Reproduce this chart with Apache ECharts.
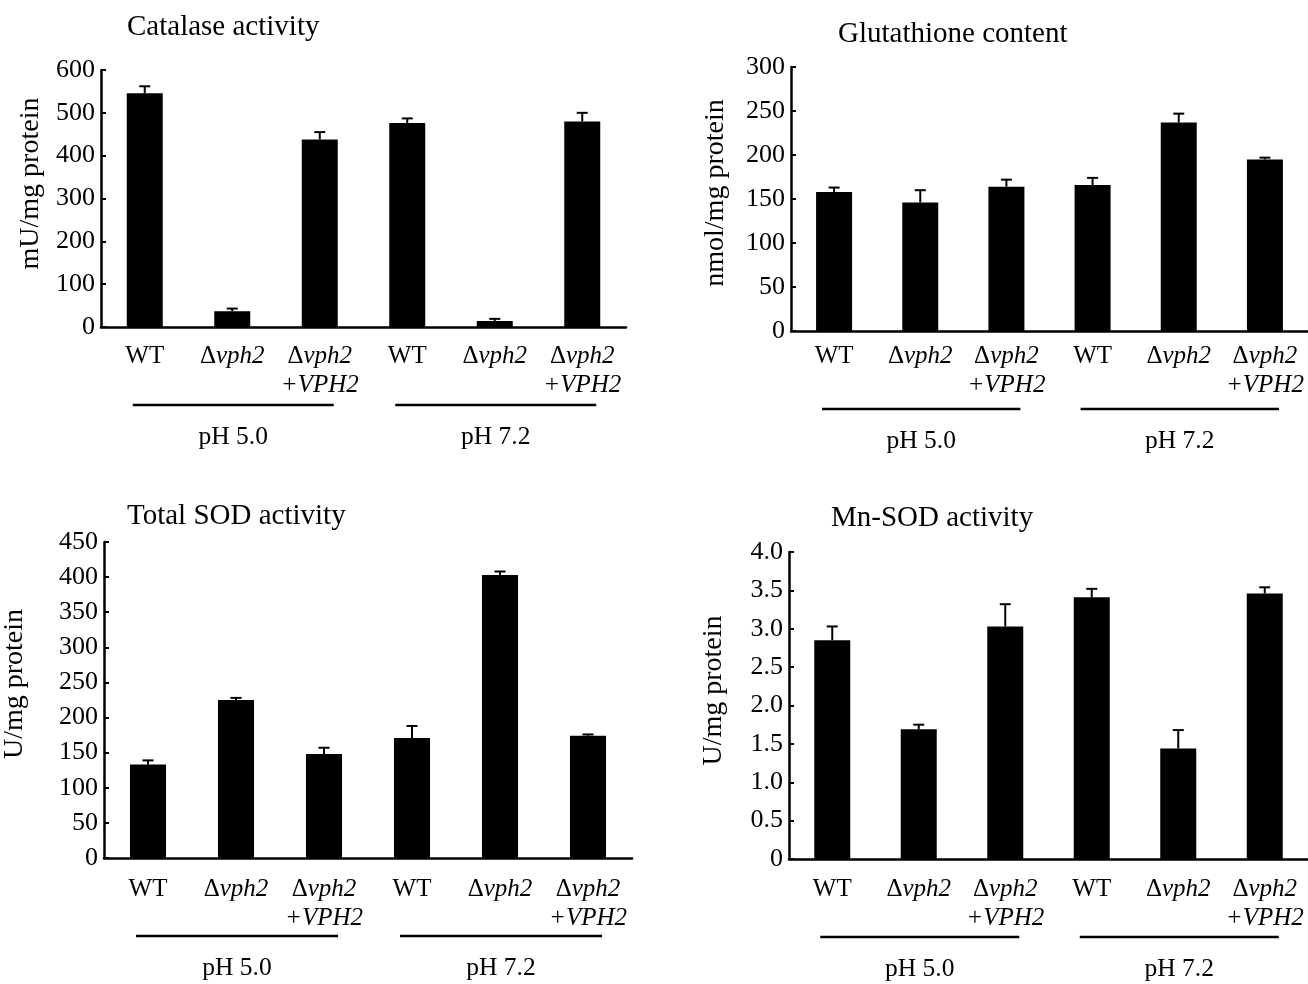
<!DOCTYPE html>
<html><head><meta charset="utf-8">
<script src="https://cdn.jsdelivr.net/npm/echarts@6/dist/echarts.min.js"></script>
<style>html,body{margin:0;padding:0;background:#fff}#c{width:1308px;height:984px}</style>
</head><body><div id="c"></div>
<script>
// ---- data ----
const categories = ['WT', 'Δvph2', 'Δvph2 +VPH2', 'WT', 'Δvph2', 'Δvph2 +VPH2'];
const groups = ['pH 5.0', 'pH 7.2'];
const titles = ['Catalase activity', 'Glutathione content', 'Total SOD activity', 'Mn-SOD activity'];
const yNames = ['mU/mg protein', 'nmol/mg protein', 'U/mg protein', 'U/mg protein'];

const catalase = [546, 37, 438, 476, 14, 480];
const catalaseErr = [16, 6, 17, 11, 5, 20];
const glutathione = [158, 146, 164, 166, 237, 195];
const glutathioneErr = [5, 14, 8, 8, 10, 2];
const totalSOD = [133, 225, 148, 171, 403, 174];
const totalSODErr = [6, 3, 9, 17, 5, 2];
const mnSOD = [2.85, 1.69, 3.03, 3.41, 1.44, 3.46];
const mnSODErr = [0.18, 0.06, 0.29, 0.11, 0.24, 0.08];

const yTicks1 = [0, 100, 200, 300, 400, 500, 600];
const yTicks2 = [0, 50, 100, 150, 200, 250, 300];
const yTicks3 = [0, 50, 100, 150, 200, 250, 300, 350, 400, 450];
const yTicks4 = ['0', '0.5', '1.0', '1.5', '2.0', '2.5', '3.0', '3.5', '4.0'];

// ---- layout ----
const FONT = '"Liberation Serif", "Times New Roman", serif';
const grids = [
  {left: 101, top: 70, width: 525, height: 257},
  {left: 791, top: 67, width: 528, height: 264},
  {left: 102, top: 542, width: 530, height: 316},
  {left: 789, top: 552, width: 528, height: 307}
];
const nameGaps = [56, 61, 75, 61];
const namePadShift = [30, 12, 32, 30];
const titlePos = [{left: 127, top: 13}, {left: 838, top: 20}, {left: 127, top: 502}, {left: 831, top: 504}];
const values = [catalase, glutathione, totalSOD, mnSOD];
const errs = [catalaseErr, glutathioneErr, totalSODErr, mnSODErr];
const ticks = [yTicks1, yTicks2, yTicks3, yTicks4.map(Number)];
const labelMargins = [15, 11, 17, 16];

function catFmt(v) {
  if (v === 'WT') return '{n|WT}';
  if (v === 'Δvph2') return '{n|Δ}{i|vph2}';
  return '{n|Δ}{i|vph2}\n{i|+VPH2}';
}

const option = {
  animation: false,
  backgroundColor: '#fff',
  title: titles.map((t, k) => ({
    text: t, left: titlePos[k].left, top: titlePos[k].top, padding: 0,
    textStyle: {fontFamily: FONT, fontSize: 29, fontWeight: 'normal', color: '#000'}
  })),
  grid: grids,
  xAxis: grids.map((g, k) => ({
    type: 'category', gridIndex: k, data: categories,
    axisLine: {lineStyle: {color: '#000', width: 2.5}},
    axisTick: {inside: true, length: 5, lineStyle: {color: '#000', width: 2}},
    axisLabel: {
      interval: 0, margin: labelMargins[k], formatter: catFmt, lineHeight: 29,
      rich: {
        n: {fontFamily: FONT, fontSize: 25, color: '#000', lineHeight: 29},
        i: {fontFamily: FONT, fontSize: 25, fontStyle: 'italic', color: '#000', lineHeight: 29}
      }
    }
  })),
  yAxis: grids.map((g, k) => {
    const t = ticks[k];
    return {
      type: 'value', gridIndex: k, min: t[0], max: t[t.length - 1], interval: t[1] - t[0],
      name: yNames[k], nameLocation: 'middle', nameGap: nameGaps[k],
      nameTextStyle: {fontFamily: FONT, fontSize: 28, color: '#000', padding: [0, 0, 0, namePadShift[k]]},
      splitLine: {show: false},
      axisLine: {show: true, lineStyle: {color: '#000', width: 2.5}},
      axisTick: {show: true, inside: true, length: 5, lineStyle: {color: '#000', width: 2}},
      axisLabel: {
        fontFamily: FONT, fontSize: 26, color: '#000', margin: 6,
        formatter: k === 3 ? (v => yTicks4[Math.round(v * 2)]) : (v => String(v))
      }
    };
  }),
  series: []
};

values.forEach((vals, k) => {
  option.series.push({
    type: 'bar', xAxisIndex: k, yAxisIndex: k, data: vals, barWidth: 36,
    itemStyle: {color: '#000'}, silent: true
  });
  option.series.push({
    type: 'custom', xAxisIndex: k, yAxisIndex: k, z: 5,
    data: vals.map((v, i) => [i, v, errs[k][i]]),
    encode: {x: 0, y: 1},
    renderItem: function (params, api) {
      const i = api.value(0), v = api.value(1), e = api.value(2);
      const p0 = api.coord([i, v]);
      const p1 = api.coord([i, v + e]);
      const st = {stroke: '#000', lineWidth: 2};
      return {
        type: 'group', children: [
          {type: 'line', shape: {x1: p0[0], y1: p0[1], x2: p1[0], y2: p1[1]}, style: st},
          {type: 'line', shape: {x1: p1[0] - 5.5, y1: p1[1], x2: p1[0] + 5.5, y2: p1[1]}, style: st}
        ]
      };
    }
  });
});

const chart = echarts.init(document.getElementById('c'), null, {renderer: 'canvas'});
chart.setOption(option);

// group brackets beneath category labels, derived from axis positions
const graphics = [];
grids.forEach((g, k) => {
  const axisY = g.top + g.height;
  [[0, 2], [3, 5]].forEach((rng, gi) => {
    const xa = chart.convertToPixel({xAxisIndex: k}, rng[0]);
    const xb = chart.convertToPixel({xAxisIndex: k}, rng[1]);
    const x1 = xa - 12, x2 = xb + 14;
    graphics.push({type: 'line', shape: {x1: x1, y1: axisY + 78, x2: x2, y2: axisY + 78},
      style: {stroke: '#000', lineWidth: 2.5}});
    graphics.push({type: 'text', x: (x1 + x2) / 2, y: axisY + 110,
      style: {text: groups[gi], fontFamily: FONT, fontSize: 25.5, fill: '#000', align: 'center', verticalAlign: 'middle'}});
  });
});
chart.setOption({graphic: graphics});
</script>
</body></html>
